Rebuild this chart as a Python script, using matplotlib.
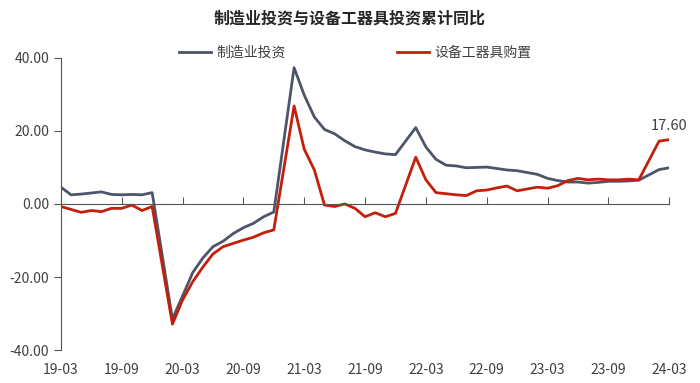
import matplotlib
matplotlib.use("Agg")
import matplotlib.pyplot as plt

plt.rcParams['font.family'] = ['Noto Sans CJK SC', 'DejaVu Sans']

# ---- data ----
months = (["2019-%02d" % m for m in range(3, 13)]
          + ["%d-%02d" % (y, m) for y in (2020, 2021, 2022, 2023) for m in range(2, 13)]
          + ["2024-02", "2024-03"])

manufacturing = [4.6, 2.5, 2.7, 3.0, 3.3, 2.6, 2.5, 2.6, 2.5, 3.1,
                 -31.5, -25.2, -18.8, -14.8, -11.7, -10.2, -8.1, -6.5, -5.3, -3.5, -2.2,
                 37.3, 29.8, 23.8, 20.4, 19.2, 17.3, 15.7, 14.8, 14.2, 13.7, 13.5,
                 20.9, 15.6, 12.2, 10.6, 10.4, 9.9, 10.0, 10.1, 9.7, 9.3, 9.1,
                 8.1, 7.0, 6.4, 6.0, 6.0, 5.7, 5.9, 6.2, 6.2, 6.3, 6.5,
                 9.4, 9.9]

equipment = [-0.7, -1.5, -2.3, -1.8, -2.1, -1.2, -1.2, -0.3, -1.8, -0.7,
             -32.9, -26.3, -21.3, -17.3, -13.7, -11.7, -10.8, -9.9, -9.1, -7.9, -7.1,
             26.8, 15.0, 9.3, -0.3, -0.7, 0.0, -1.2, -3.5, -2.4, -3.5, -2.6,
             12.8, 6.6, 3.1, 2.8, 2.5, 2.3, 3.6, 3.8, 4.4, 4.9, 3.6,
             4.6, 4.3, 5.0, 6.4, 7.0, 6.6, 6.8, 6.6, 6.6, 6.8, 6.6,
             17.2, 17.6]

tick_labels = ["19-03", "19-09", "20-03", "20-09", "21-03", "21-09",
               "22-03", "22-09", "23-03", "23-09", "24-03"]

series_names = ["制造业投资", "设备工器具购置"]
title = "制造业投资与设备工器具投资累计同比"

# month index relative to 2019-03
def midx(s):
    y, m = s.split("-")
    return (int(y) - 2019) * 12 + int(m) - 3

x = [midx(s) for s in months]
tick_pos = [midx("20" + t) for t in tick_labels]

GRAY = "#4f5568"
RED = "#c41e0c"
TXT = "#404040"

fig = plt.figure(figsize=(7, 3.83), dpi=100)
ax = fig.add_axes([0.087, 0.086, 0.869, 0.763])

l1, = ax.plot(x, manufacturing, color=GRAY, lw=2.0, solid_joinstyle='round', label=series_names[0])
l2, = ax.plot(x, equipment, color=RED, lw=2.0, solid_joinstyle='round', label=series_names[1])

ax.set_xlim(0, 60)
ax.set_ylim(-40, 40)
ax.set_yticks([-40, -20, 0, 20, 40])
ax.set_yticklabels(["%.2f" % v for v in [-40, -20, 0, 20, 40]])

for s in ['top', 'right']:
    ax.spines[s].set_visible(False)
ax.spines['left'].set_color("#555555")
ax.spines['bottom'].set_position(('data', 0))
ax.spines['bottom'].set_color("#555555")

ax.set_xticks(tick_pos)
ax.tick_params(axis='x', direction='in', length=5, color="#555555", labelbottom=False)
ax.tick_params(axis='y', direction='out', length=5, color="#555555", labelsize=10, labelcolor=TXT)

sec = ax.secondary_xaxis('bottom')
sec.set_xticks(tick_pos)
sec.set_xticklabels(tick_labels)
sec.tick_params(length=0, labelsize=10, labelcolor=TXT, pad=9)
sec.spines['bottom'].set_visible(False)

ax.annotate("%.2f" % equipment[-1], (x[-1], equipment[-1]), xytext=(0, 5),
            textcoords='offset points', ha='center', va='bottom', fontsize=10.5, color=TXT)

fig.text(0.5, 0.953, title, ha='center', va='center', fontsize=11.5, fontweight='bold', color="#262626")

fig.legend(handles=[l1, l2], loc='center', bbox_to_anchor=(0.508, 0.862), ncol=2,
           frameon=False, fontsize=10, handlelength=2.3, columnspacing=8.0,
           handletextpad=0.4, labelcolor=TXT)

fig.savefig("out.png", dpi=100)
